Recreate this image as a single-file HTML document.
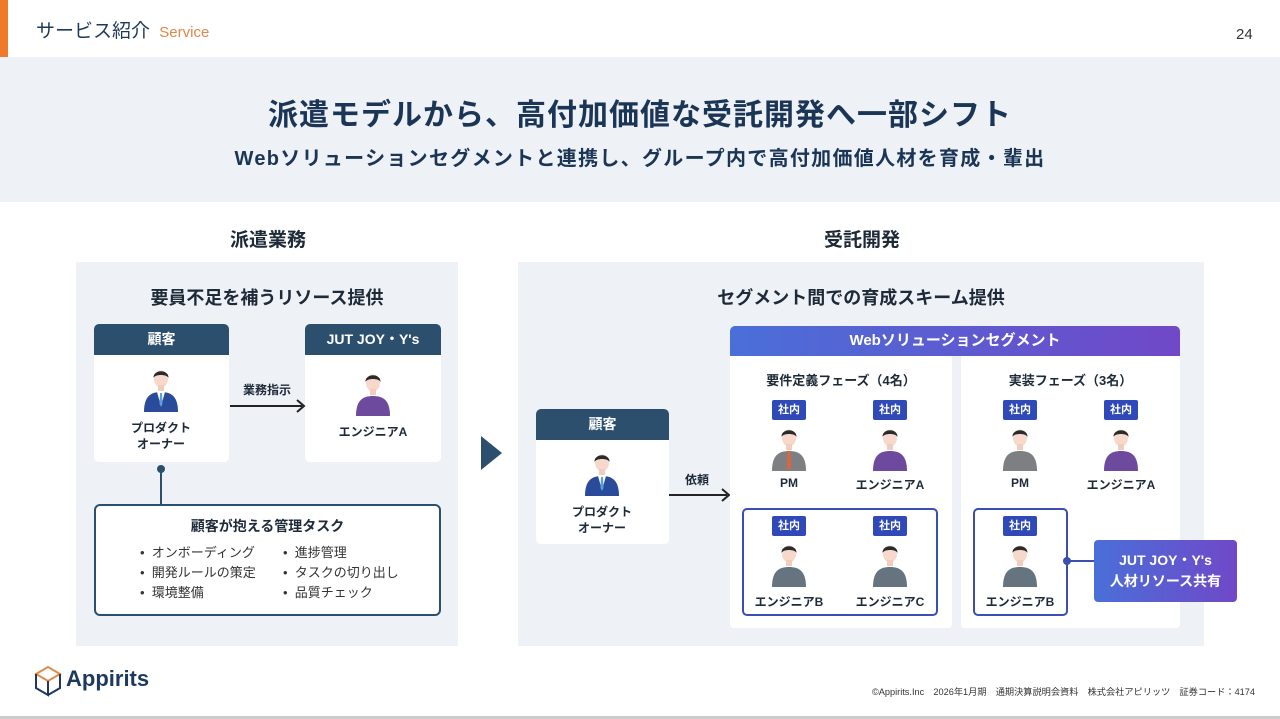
<!DOCTYPE html>
<html><head><meta charset="utf-8">
<style>
*{margin:0;padding:0;box-sizing:border-box}
body{width:1280px;height:719px;position:relative;background:#fff;font-family:"Liberation Sans","Noto Sans CJK JP",sans-serif;color:#1e2a38;overflow:hidden}
.a{position:absolute}
.c{text-align:center}
.b{font-weight:bold}
.hd{background:#2c4f6e;color:#fff;font-weight:bold;font-size:14px;text-align:center;border-radius:5px 5px 0 0;line-height:31px}
.card{background:#fff;border-radius:5px}
.badge{position:absolute;background:#2f49b8;color:#fff;font-size:11px;font-weight:bold;width:34px;height:20px;line-height:20px;text-align:center;border-radius:2px}
.lbl{position:absolute;font-size:12px;font-weight:bold;text-align:center;width:100px}
.ul{position:absolute;font-size:13px;line-height:20px;color:#333}
</style></head><body>
<svg width="0" height="0" style="position:absolute">
<defs>
<symbol id="head" viewBox="0 0 40 46"><ellipse cx="20" cy="13" rx="7" ry="8.5" fill="#f7d9cc"/><path d="M12.5 12 C12 3 28 3 27.5 12 C26 8 14 8 12.5 12Z" fill="#2b2b2b"/><rect x="17" y="19" width="6" height="6" fill="#f0cdbd"/></symbol>
</defs></svg>

<div class="a" style="left:0;top:0;width:8px;height:57px;background:#ef7a2a"></div>
<div class="a" style="left:36px;top:16px;font-size:19px;color:#1e3a5a">サービス紹介 <span style="color:#e0874a;font-size:15px;margin-left:4px">Service</span></div>
<div class="a" style="left:1236px;top:26px;font-size:15px;color:#333">24</div>

<div class="a" style="left:0;top:57px;width:1280px;height:145px;background:#eef1f5"></div>
<div class="a c b" style="left:0;top:90px;width:1280px;font-size:30px;letter-spacing:1px;color:#1a3555">派遣モデルから、高付加価値な受託開発へ一部シフト</div>
<div class="a c b" style="left:0;top:142px;width:1280px;font-size:20px;letter-spacing:1.3px;color:#1a3555">Webソリューションセグメントと連携し、グループ内で高付加価値人材を育成・輩出</div>

<!-- left -->
<div class="a c b" style="left:168px;top:225px;width:200px;font-size:19px">派遣業務</div>
<div class="a" style="left:76px;top:262px;width:382px;height:384px;background:#eef2f7"></div>
<div class="a c b" style="left:76px;top:284px;width:382px;font-size:18px">要員不足を補うリソース提供</div>

<div class="a card" style="left:94px;top:324px;width:135px;height:138px"><div class="hd">顧客</div></div>
<svg class="a" style="left:140px;top:366px" width="42" height="46" viewBox="0 0 40 46"><path d="M3 46 C3 30 10 26 20 26 C30 26 37 30 37 46Z" fill="#2a4a9a"/><path d="M16 26 L20 40 L24 26Z" fill="#fff"/><path d="M19 27 L21 27 L21.5 38 L20 41 L18.5 38Z" fill="#5aa0e0"/><use href="#head"/></svg>
<div class="lbl" style="left:111px;top:420px;line-height:16px">プロダクト<br>オーナー</div>

<div class="a card" style="left:305px;top:324px;width:136px;height:138px"><div class="hd">JUT JOY・Y's</div></div>
<svg class="a" style="left:352px;top:370px" width="42" height="46" viewBox="0 0 40 46"><path d="M3 46 C3 30 10 26 20 26 C30 26 37 30 37 46Z" fill="#6e4a9e"/><use href="#head"/></svg>
<div class="lbl" style="left:323px;top:423px">エンジニアA</div>

<div class="a b" style="left:243px;top:381px;font-size:12px">業務指示</div>
<div class="a" style="left:230px;top:405px;width:72px;height:2px;background:#222"></div>
<svg class="a" style="left:296px;top:399px" width="10" height="14"><path d="M1 1 L8 7 L1 13" stroke="#222" stroke-width="2" fill="none"/></svg>

<div class="a" style="left:160px;top:466px;width:2px;height:40px;background:#2c4f6e"></div>
<div class="a" style="left:157px;top:465px;width:8px;height:8px;border-radius:50%;background:#2c4f6e"></div>
<div class="a" style="left:94px;top:504px;width:347px;height:112px;border:2px solid #2c4f6e;border-radius:6px;background:#fff"></div>
<div class="a c b" style="left:94px;top:516px;width:347px;font-size:14px">顧客が抱える管理タスク</div>
<div class="ul" style="left:140px;top:543px">•&nbsp;&nbsp;オンボーディング<br>•&nbsp;&nbsp;開発ルールの策定<br>•&nbsp;&nbsp;環境整備</div>
<div class="ul" style="left:283px;top:543px">•&nbsp;&nbsp;進捗管理<br>•&nbsp;&nbsp;タスクの切り出し<br>•&nbsp;&nbsp;品質チェック</div>

<svg class="a" style="left:480px;top:435px" width="24" height="36"><path d="M1 1 L22 18 L1 35Z" fill="#2c4f6e"/></svg>

<!-- right -->
<div class="a c b" style="left:762px;top:225px;width:200px;font-size:19px">受託開発</div>
<div class="a" style="left:518px;top:262px;width:686px;height:384px;background:#eef2f7"></div>
<div class="a c b" style="left:518px;top:284px;width:686px;font-size:18px">セグメント間での育成スキーム提供</div>

<div class="a card" style="left:536px;top:409px;width:133px;height:135px"><div class="hd">顧客</div></div>
<svg class="a" style="left:581px;top:450px" width="42" height="46" viewBox="0 0 40 46"><path d="M3 46 C3 30 10 26 20 26 C30 26 37 30 37 46Z" fill="#2a4a9a"/><path d="M16 26 L20 40 L24 26Z" fill="#fff"/><path d="M19 27 L21 27 L21.5 38 L20 41 L18.5 38Z" fill="#5aa0e0"/><use href="#head"/></svg>
<div class="lbl" style="left:552px;top:504px;line-height:16px">プロダクト<br>オーナー</div>
<div class="a b" style="left:685px;top:471px;font-size:12px">依頼</div>
<div class="a" style="left:669px;top:494px;width:58px;height:2px;background:#222"></div>
<svg class="a" style="left:721px;top:488px" width="10" height="14"><path d="M1 1 L8 7 L1 13" stroke="#222" stroke-width="2" fill="none"/></svg>

<div class="a" style="left:730px;top:356px;width:222px;height:272px;background:#fff;border-radius:0 0 4px 4px"></div>
<div class="a" style="left:961px;top:356px;width:219px;height:272px;background:#fff;border-radius:0 0 4px 4px"></div>
<div class="a c b" style="left:730px;top:326px;width:450px;height:30px;line-height:30px;border-radius:5px 5px 0 0;background:linear-gradient(90deg,#4a6fd8,#7048c8);color:#fff;font-size:15px">Webソリューションセグメント</div>
<div class="a c b" style="left:730px;top:370px;width:222px;font-size:13px">要件定義フェーズ（4名）</div>
<div class="a c b" style="left:961px;top:370px;width:219px;font-size:13px">実装フェーズ（3名）</div>

<div class="a" style="left:742px;top:508px;width:196px;height:108px;border:2px solid #3a4fb0;border-radius:5px"></div>
<div class="a" style="left:973px;top:508px;width:95px;height:108px;border:2px solid #3a4fb0;border-radius:5px"></div>

<div class="badge" style="left:772px;top:400px">社内</div>
<svg class="a" style="left:769px;top:425px" width="40" height="46" viewBox="0 0 40 46"><path d="M3 46 C3 30 10 26 20 26 C30 26 37 30 37 46Z" fill="#7d7f82"/><path d="M18.5 26 L21.5 26 L22 44 L18 44Z" fill="#e0643a"/><use href="#head"/></svg>
<div class="lbl" style="left:739px;top:476px">PM</div>
<div class="badge" style="left:873px;top:400px">社内</div>
<svg class="a" style="left:870px;top:425px" width="40" height="46" viewBox="0 0 40 46"><path d="M3 46 C3 30 10 26 20 26 C30 26 37 30 37 46Z" fill="#6e4a9e"/><use href="#head"/></svg>
<div class="lbl" style="left:840px;top:476px">エンジニアA</div>

<div class="badge" style="left:1003px;top:400px">社内</div>
<svg class="a" style="left:1000px;top:425px" width="40" height="46" viewBox="0 0 40 46"><path d="M3 46 C3 30 10 26 20 26 C30 26 37 30 37 46Z" fill="#7d7f82"/><use href="#head"/></svg>
<div class="lbl" style="left:970px;top:476px">PM</div>
<div class="badge" style="left:1104px;top:400px">社内</div>
<svg class="a" style="left:1101px;top:425px" width="40" height="46" viewBox="0 0 40 46"><path d="M3 46 C3 30 10 26 20 26 C30 26 37 30 37 46Z" fill="#6e4a9e"/><use href="#head"/></svg>
<div class="lbl" style="left:1071px;top:476px">エンジニアA</div>

<div class="badge" style="left:772px;top:516px">社内</div>
<svg class="a" style="left:769px;top:541px" width="40" height="46" viewBox="0 0 40 46"><path d="M3 46 C3 30 10 26 20 26 C30 26 37 30 37 46Z" fill="#66747f"/><use href="#head"/></svg>
<div class="lbl" style="left:739px;top:593px">エンジニアB</div>
<div class="badge" style="left:873px;top:516px">社内</div>
<svg class="a" style="left:870px;top:541px" width="40" height="46" viewBox="0 0 40 46"><path d="M3 46 C3 30 10 26 20 26 C30 26 37 30 37 46Z" fill="#66747f"/><use href="#head"/></svg>
<div class="lbl" style="left:840px;top:593px">エンジニアC</div>
<div class="badge" style="left:1003px;top:516px">社内</div>
<svg class="a" style="left:1000px;top:541px" width="40" height="46" viewBox="0 0 40 46"><path d="M3 46 C3 30 10 26 20 26 C30 26 37 30 37 46Z" fill="#66747f"/><use href="#head"/></svg>
<div class="lbl" style="left:970px;top:593px">エンジニアB</div>

<div class="a" style="left:1067px;top:560px;width:28px;height:2px;background:#3a4fb0"></div>
<div class="a" style="left:1063px;top:557px;width:8px;height:8px;border-radius:50%;background:#3a4fb0"></div>
<div class="a c b" style="left:1094px;top:540px;width:143px;height:62px;border-radius:4px;background:linear-gradient(90deg,#4a6fd8,#7048c8);color:#fff;font-size:14px;line-height:21px;padding-top:10px">JUT JOY・Y's<br>人材リソース共有</div>

<svg class="a" style="left:34px;top:665px" width="28" height="32" viewBox="0 0 28 32"><path d="M14 2 L26 9 L14 16 L2 9Z" fill="none" stroke="#e08a4a" stroke-width="2"/><path d="M2 9 L2 23 L14 30 L14 16 M26 9 L26 23 L14 30" fill="none" stroke="#1d3a5c" stroke-width="2"/></svg>
<div class="a b" style="left:66px;top:666px;font-size:22px;color:#1d3a5c">Appirits</div>
<div class="a" style="left:872px;top:684px;font-size:9.2px;color:#333;white-space:nowrap">©Appirits.Inc　2026年1月期　通期決算説明会資料　株式会社アピリッツ　証券コード：4174</div>
<div class="a" style="left:0;top:716px;width:1280px;height:3px;background:#ccc"></div>
</body></html>
